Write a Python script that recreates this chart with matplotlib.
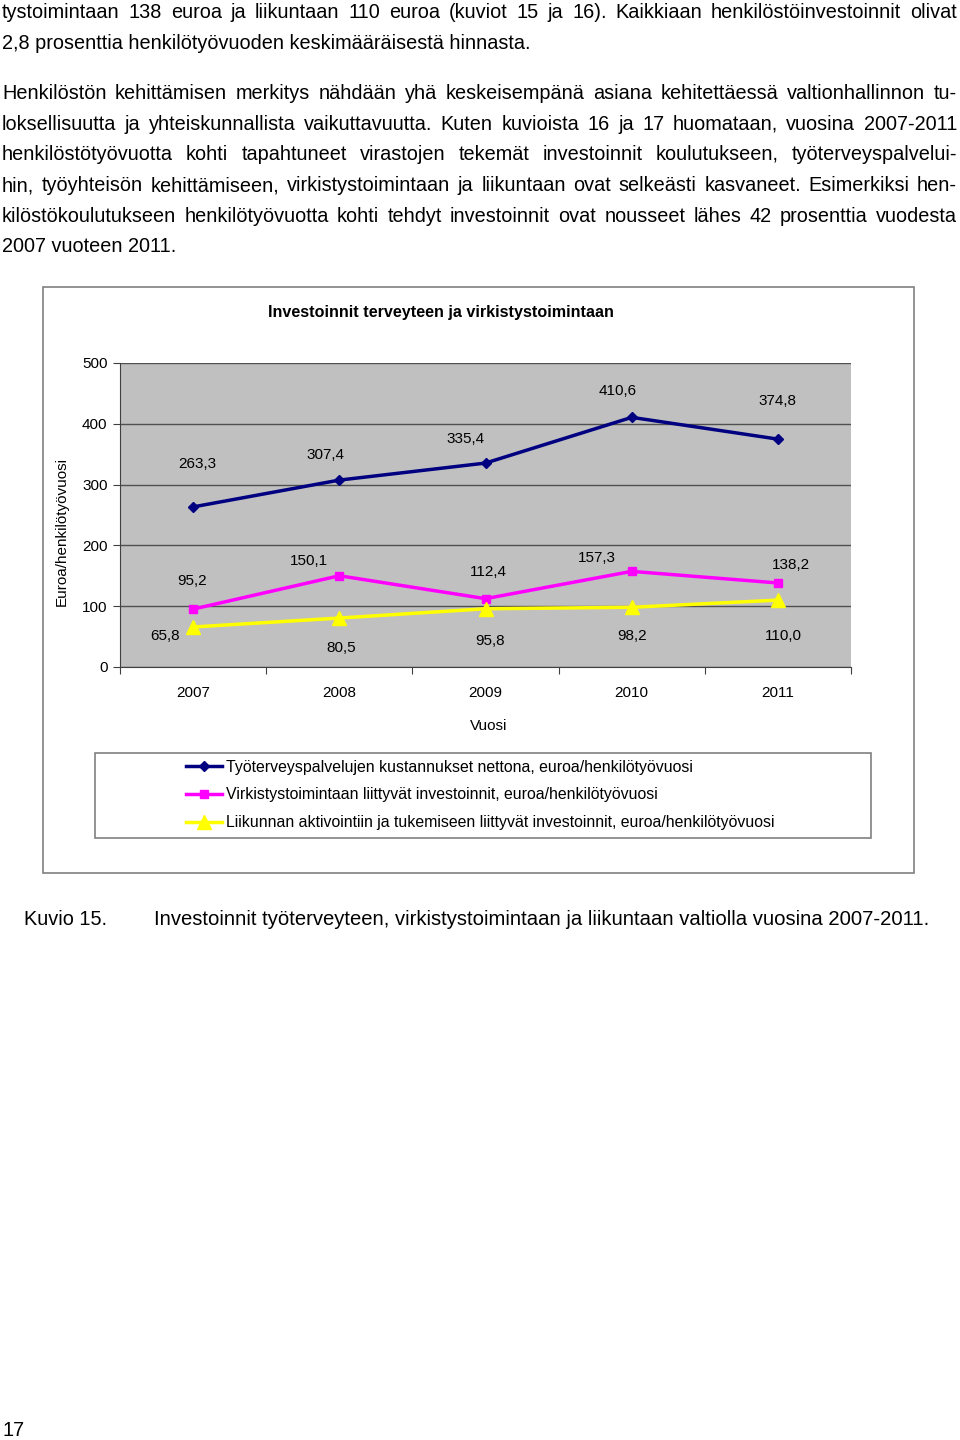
import matplotlib
matplotlib.use('Agg')
import matplotlib.pyplot as plt
from matplotlib.patches import Rectangle

# ---------------- data ----------------
years = ['2007', '2008', '2009', '2010', '2011']
tyoterveys = [263.3, 307.4, 335.4, 410.6, 374.8]
virkistys = [95.2, 150.1, 112.4, 157.3, 138.2]
liikunta = [65.8, 80.5, 95.8, 98.2, 110.0]
series_names = [
    'Työterveyspalvelujen kustannukset nettona, euroa/henkilötyövuosi',
    'Virkistystoimintaan liittyvät investoinnit, euroa/henkilötyövuosi',
    'Liikunnan aktivointiin ja tukemiseen liittyvät investoinnit, euroa/henkilötyövuosi',
]
yticks = [0, 100, 200, 300, 400, 500]
chart_title = 'Investoinnit terveyteen ja virkistystoimintaan'
x_label = 'Vuosi'
y_label = 'Euroa/henkilötyövuosi'

body_lines = [
    ('tystoimintaan 138 euroa ja liikuntaan 110 euroa (kuviot 15 ja 16). Kaikkiaan henkilöstöinvestoinnit olivat', True),
    ('2,8 prosenttia henkilötyövuoden keskimääräisestä hinnasta.', False),
    ('Henkilöstön kehittämisen merkitys nähdään yhä keskeisempänä asiana kehitettäessä valtionhallinnon tu-', True),
    ('loksellisuutta ja yhteiskunnallista vaikuttavuutta. Kuten kuvioista 16 ja 17 huomataan, vuosina 2007-2011', True),
    ('henkilöstötyövuotta kohti tapahtuneet virastojen tekemät investoinnit koulutukseen, työterveyspalvelui-', True),
    ('hin, työyhteisön kehittämiseen, virkistystoimintaan ja liikuntaan ovat selkeästi kasvaneet. Esimerkiksi hen-', True),
    ('kilöstökoulutukseen henkilötyövuotta kohti tehdyt investoinnit ovat nousseet lähes 42 prosenttia vuodesta', True),
    ('2007 vuoteen 2011.', False),
]
body_baselines = [18, 49, 99, 130, 160, 191, 222, 252]
caption_num = 'Kuvio 15.'
caption_text = 'Investoinnit työterveyteen, virkistystoimintaan ja liikuntaan valtiolla vuosina 2007-2011.'
page_number = '17'

# label offsets (pixels) for data labels
off_blue = [(4, 43), (-14, 25), (-20, 24), (-14, 26), (0, 38)]
off_mag = [(-1, 28), (-30, 15), (3, 27), (-35, 13), (13, 18)]
off_yel = [(-28, -9), (2, -30), (5, -32), (0, -29), (5, -36)]

FONT = ['Liberation Sans', 'DejaVu Sans']
BODY_SIZE = 14.3
W, H = 960, 1440
fig = plt.figure(figsize=(W / 100, H / 100), dpi=100)
fig.patch.set_facecolor('white')


def fx(px):
    return px / W


def fy(py):
    return 1 - py / H


renderer = fig.canvas.get_renderer()


def put_line(text, x0, x1, ybase, justify, size=BODY_SIZE):
    if not justify:
        fig.text(fx(x0), fy(ybase), text, fontsize=size, family=FONT,
                 va='baseline', ha='left')
        return
    words = text.split(' ')
    arts, widths = [], []
    for w in words:
        t = fig.text(0, 0, w, fontsize=size, family=FONT, va='baseline', ha='left')
        widths.append(t.get_window_extent(renderer).width)
        arts.append(t)
    gap = (x1 - x0 - sum(widths)) / (len(words) - 1)
    x = x0
    for t, wd in zip(arts, widths):
        t.set_position((fx(x), fy(ybase)))
        x += wd + gap


for (txt, just), yb in zip(body_lines, body_baselines):
    put_line(txt, 2, 957, yb, just)

fig.text(fx(24), fy(925), caption_num, fontsize=BODY_SIZE, family=FONT, va='baseline')
fig.text(fx(154), fy(925), caption_text, fontsize=14.6, family=FONT, va='baseline')
fig.text(fx(2), fy(1436), page_number, fontsize=BODY_SIZE, family=FONT, va='baseline')

# chart outer frame
fig.add_artist(Rectangle((fx(43), fy(873)), (914 - 43) / W, (873 - 287) / H,
                         transform=fig.transFigure, fill=False,
                         ec='#808080', lw=1.2))

ax = fig.add_axes([fx(120), fy(667), (851 - 120) / W, (667 - 363) / H])
ax.set_facecolor('#C0C0C0')
xs = list(range(len(years)))
l1, = ax.plot(xs, tyoterveys, color='#000080', lw=2.5, marker='D', ms=5, zorder=3)
l2, = ax.plot(xs, virkistys, color='#FF00FF', lw=2.5, marker='s', ms=5.5, zorder=3)
l3, = ax.plot(xs, liikunta, color='#FFFF00', lw=2.5, marker='^', ms=10, zorder=3)

ax.set_xlim(-0.5, len(years) - 0.5)
ax.set_ylim(yticks[0], yticks[-1])
ax.set_yticks(yticks)
ax.set_yticklabels([str(v) for v in yticks], fontsize=11, family=FONT)
ax.yaxis.grid(True, color='#505050', lw=1)
ax.set_axisbelow(True)
ax.set_xticks([i - 0.5 for i in range(len(years) + 1)])
ax.set_xticklabels([])
ax.set_xticks(xs, minor=True)
ax.set_xticklabels(years, minor=True, fontsize=11, family=FONT)
ax.tick_params(axis='x', which='major', length=5, direction='out', color='#404040')
ax.tick_params(axis='x', which='minor', length=0, pad=14)
ax.tick_params(axis='y', length=5, direction='out', pad=4, color='#404040')
for s in ['top', 'right']:
    ax.spines[s].set_visible(False)
for s in ['left', 'bottom']:
    ax.spines[s].set_color('#404040')


def fmt(v):
    return f'{v:.1f}'.replace('.', ',')


for vals, offs in ((tyoterveys, off_blue), (virkistys, off_mag), (liikunta, off_yel)):
    for i, (v, o) in enumerate(zip(vals, offs)):
        ax.annotate(fmt(v), (i, v), xytext=o, textcoords='offset pixels',
                    ha='center', va='center', fontsize=11, family=FONT,
                    annotation_clip=False)

fig.text(fx(441), fy(312), chart_title, fontsize=11.6, fontweight='bold',
         family=FONT, ha='center', va='center')
fig.text(fx(489), fy(726), x_label, fontsize=11, family=FONT, ha='center', va='center')
fig.text(fx(62), fy(532), y_label, fontsize=11, family=FONT, ha='center',
         va='center', rotation=90)

# legend
fig.add_artist(Rectangle((fx(95), fy(838)), (871 - 95) / W, (838 - 753) / H,
                         transform=fig.transFigure, fill=False,
                         ec='#808080', lw=1.2))
fig.legend([l1, l2, l3], series_names, loc='center left',
           bbox_to_anchor=(fx(186), fy(795)), frameon=False,
           prop={'family': FONT, 'size': 11.4}, handlelength=2.28,
           handletextpad=0.25, labelspacing=0.82, borderpad=0, borderaxespad=0)

fig.savefig('out.png', dpi=100, facecolor='white')
